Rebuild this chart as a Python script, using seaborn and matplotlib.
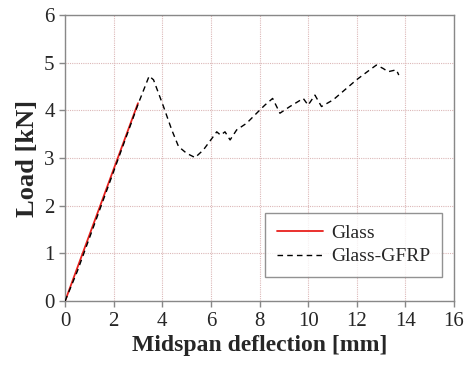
import pandas as pd
import seaborn as sns
import matplotlib.pyplot as plt

# Glass: linear up to failure
glass_x = [0.0, 3.0]
glass_y = [0.0, 4.15]

# Glass-GFRP: load vs midspan deflection
gfrp_x = [0.0, 0.5, 1.0, 2.0, 3.02, 3.46, 3.64, 4.05, 4.39, 4.67, 5.0, 5.35, 5.69,
          6.04, 6.24, 6.4, 6.58, 6.79, 7.06, 7.47, 8.02, 8.22, 8.54, 8.84, 9.25,
          9.8, 10.0, 10.28, 10.55, 11.03, 11.99, 12.54, 12.81, 13.08, 13.29, 13.63, 13.73]
gfrp_y = [0.0, 0.62, 1.32, 2.72, 4.15, 4.72, 4.64, 4.08, 3.59, 3.24, 3.10, 3.01, 3.17,
          3.41, 3.55, 3.48, 3.55, 3.38, 3.59, 3.73, 4.01, 4.11, 4.25, 3.94, 4.08,
          4.25, 4.11, 4.32, 4.08, 4.22, 4.64, 4.85, 4.95, 4.88, 4.81, 4.85, 4.74]

sns.set_style("white")
plt.rcParams["font.family"] = ["Liberation Serif", "DejaVu Serif"]

fig = plt.figure(figsize=(4.68, 3.65), dpi=100)
ax = fig.add_axes([0.139, 0.175, 0.831, 0.784])

df_glass = pd.DataFrame({"x": glass_x, "y": glass_y})
df_gfrp = pd.DataFrame({"x": gfrp_x, "y": gfrp_y})

sns.lineplot(data=df_gfrp, x="x", y="y", ax=ax, color="black", lw=1.0,
             linestyle=(0, (4, 3)), label="Glass-GFRP", sort=False, zorder=3)
sns.lineplot(data=df_glass, x="x", y="y", ax=ax, color="#e8201c", lw=1.3,
             label="Glass", sort=False, zorder=2)

ax.set_xlim(0, 16)
ax.set_ylim(0, 6)
ax.set_xticks(range(0, 17, 2))
ax.set_yticks(range(0, 7))
ax.grid(True, color="#dcb8b8", linestyle=(0, (1, 1)), lw=0.8)
for s in ax.spines.values():
    s.set_color("#888888")
    s.set_linewidth(1.0)
ax.tick_params(axis="both", labelsize=15, direction="out", length=4,
               color="#888888", width=1.0, bottom=True, left=True)
ax.set_xlabel("Midspan deflection [mm]", fontsize=17, fontweight="bold", labelpad=3)
ax.set_ylabel("Load [kN]", fontsize=19, fontweight="bold", labelpad=4)

h, l = ax.get_legend_handles_labels()
leg = ax.legend(h[::-1], l[::-1], loc="lower right", bbox_to_anchor=(0.969, 0.084),
                borderaxespad=0, fontsize=14, frameon=True, fancybox=False,
                handlelength=2.4, borderpad=0.6, labelspacing=0.3, handletextpad=0.4)
leg.get_frame().set_edgecolor("#777777")
leg.get_frame().set_linewidth(1.0)

fig.savefig("out.png", dpi=100)
